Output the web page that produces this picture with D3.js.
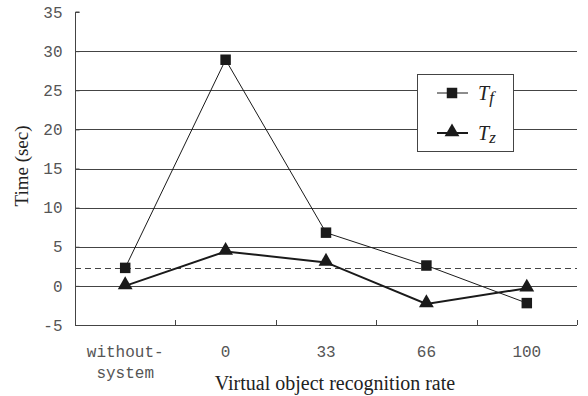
<!DOCTYPE html>
<html><head><meta charset="utf-8">
<script src="https://cdn.jsdelivr.net/npm/d3@7"></script>
<style>body{margin:0;background:#fff}svg{display:block}
.mono{font-family:'Liberation Mono','Courier New','DejaVu Sans Mono',monospace}
.serif{font-family:'Liberation Serif','Times New Roman','DejaVu Serif',serif}
</style>
</head><body>
<svg id="c" width="588" height="396"></svg>
<script>
const categories = [["without-","system"],["0"],["33"],["66"],["100"]];
const tfValues = [2.3, 28.9, 6.8, 2.6, -2.2];
const tzValues = [0.0, 4.4, 3.0, -2.3, -0.3];
const yTicks = [-5, 0, 5, 10, 15, 20, 25, 30, 35];
const referenceLine = 2.3;

const svg = d3.select("#c");
const L = 75, R = 577, T = 12, B = 325;
const x = d3.scaleBand().domain(d3.range(categories.length)).range([L, R]);
const y = d3.scaleLinear().domain([-5, 35]).range([B, T]);
const ink = "#1a1a1a", grid = "#444";

svg.append("g").selectAll("line").data(yTicks.filter(v => v > -5 && v < 35)).join("line")
  .attr("x1", L).attr("x2", R).attr("y1", d => Math.round(y(d)) + 0.5).attr("y2", d => Math.round(y(d)) + 0.5)
  .attr("stroke", grid).attr("stroke-width", 1);
svg.append("line").attr("x1", L).attr("x2", R)
  .attr("y1", Math.round(y(referenceLine)) + 0.5).attr("y2", Math.round(y(referenceLine)) + 0.5)
  .attr("stroke", grid).attr("stroke-dasharray", "6,4");

const ya = svg.append("g").attr("transform", `translate(${L + 0.5},0)`)
  .call(d3.axisRight(y).tickValues(yTicks).tickSize(4).tickFormat(d => d));
ya.attr("font-family", null).attr("font-size", null);
ya.select(".domain").attr("stroke", grid).attr("d", `M4,${T}H0V${B}`);
ya.selectAll(".tick line").attr("stroke", grid);
ya.selectAll(".tick text").attr("x", -13).attr("text-anchor", "end").attr("class", "mono")
  .attr("font-size", 16).attr("fill", "#555");

const xa = svg.append("g").attr("transform", `translate(0,${B + 0.5})`)
  .call(d3.axisBottom(x).tickSize(0).tickFormat(""));
xa.select(".domain").attr("stroke", grid).attr("d", `M${L},0H${R}`);
svg.append("g").selectAll("line").data(d3.range(1, categories.length + 1)).join("line")
  .attr("x1", i => Math.round(x.step() * i + L) + 0.5).attr("x2", i => Math.round(x.step() * i + L) + 0.5)
  .attr("y1", B - 5).attr("y2", B).attr("stroke", grid);
svg.append("g").selectAll("text").data(categories).join("text")
  .attr("class", "mono")
  .attr("x", (d, i) => x(i) + x.bandwidth() / 2).attr("y", 357)
  .attr("text-anchor", "middle").attr("font-size", 16).attr("fill", "#555")
  .selectAll("tspan").data(d => d).join("tspan")
  .attr("x", function () { return this.parentNode.getAttribute("x"); })
  .attr("dy", (d, i) => i === 0 ? 0 : 21).text(d => d);

svg.append("text").attr("class", "serif").attr("transform", "translate(28,166) rotate(-90)").attr("text-anchor", "middle")
  .attr("font-size", 19).attr("fill", "#222").text("Time (sec)");
svg.append("text").attr("class", "serif").attr("x", 335).attr("y", 390).attr("text-anchor", "middle")
  .attr("font-size", 20).attr("fill", "#222").text("Virtual object recognition rate");

const cx = i => x(i) + x.bandwidth() / 2;
const line = d3.line().x((d, i) => cx(i)).y(d => y(d));
svg.append("path").attr("d", line(tfValues)).attr("fill", "none").attr("stroke", ink).attr("stroke-width", 1);
svg.append("path").attr("d", line(tzValues)).attr("fill", "none").attr("stroke", ink).attr("stroke-width", 2);
const sq = d3.symbol(d3.symbolSquare, 110), tri = d3.symbol(d3.symbolTriangle, 95);
svg.append("g").selectAll("path").data(tfValues).join("path")
  .attr("transform", (d, i) => `translate(${cx(i)},${y(d)})`).attr("d", sq).attr("fill", ink);
svg.append("g").selectAll("path").data(tzValues).join("path")
  .attr("transform", (d, i) => `translate(${cx(i)},${y(d) - 1})`).attr("d", tri).attr("fill", ink);

const lg = svg.append("g");
lg.append("rect").attr("x", 417.5).attr("y", 74.5).attr("width", 96).attr("height", 77)
  .attr("fill", "#fff").attr("stroke", grid);
const entries = [{sym: sq, w: 1, sub: "f", yy: 93, dy: 0}, {sym: tri, w: 2, sub: "z", yy: 133, dy: -1}];
entries.forEach(e => {
  lg.append("line").attr("x1", 437).attr("x2", 468).attr("y1", e.yy).attr("y2", e.yy).attr("stroke", ink).attr("stroke-width", e.w);
  lg.append("path").attr("transform", `translate(452,${e.yy + e.dy})`).attr("d", e.sym).attr("fill", ink);
  const t = lg.append("text").attr("class", "serif").attr("x", 478).attr("y", e.yy + 7)
    .attr("font-style", "italic").attr("font-size", 20).attr("fill", "#222");
  t.append("tspan").text("T");
  t.append("tspan").attr("font-size", 17).attr("dy", 3).text(e.sub);
});
</script>
</body></html>
